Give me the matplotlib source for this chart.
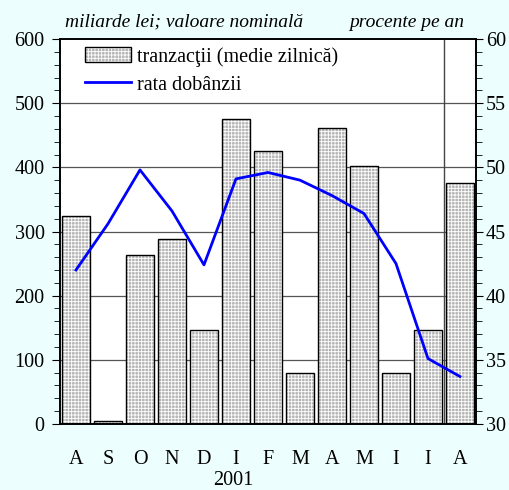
import matplotlib
matplotlib.use("Agg")
import matplotlib.pyplot as plt
from matplotlib.patches import Patch
from matplotlib.lines import Line2D
import numpy as np

# Daten
luni = ["A", "S", "O", "N", "D", "I", "F", "M", "A", "M", "I", "I", "A"]
tranzactii = [324, 5, 263, 288, 146, 475, 425, 79, 461, 402, 79, 146, 375]
rata = [42.0, 45.6, 49.8, 46.6, 42.4, 49.1, 49.6, 49.0, 47.8, 46.4, 42.5, 35.1, 33.7]

plt.rcParams["font.family"] = ["Liberation Serif", "DejaVu Serif"]
plt.rcParams["hatch.linewidth"] = 0.6

fig = plt.figure(figsize=(5.1, 4.9), dpi=100, facecolor="#ecfefd")
ax = fig.add_axes([0.1176, 0.1347, 0.8157, 0.7857])
ax.set_facecolor("white")

x = np.arange(len(luni))
grau = "#b4b4b4"

# Gitterlinien hinter den Balken
for v in range(100, 600, 100):
    ax.axhline(v, color="#555555", lw=0.9, zorder=0)

# Balken: gepunktete Füllung + schwarzer Rand
ax.bar(x, tranzactii, width=0.9, color=grau, edgecolor="white",
       hatch="+++++", lw=0, zorder=2)
ax.bar(x, tranzactii, width=0.9, fill=False, edgecolor="black", lw=1.0, zorder=3)
# Trennlinie vor dem letzten Monat
ax.axvline(11.5, color="#444444", lw=1.0, zorder=4)

ax.set_xlim(-0.5, 12.5)
ax.set_ylim(0, 600)
ax.set_yticks(range(0, 601, 100))
ax.set_yticks(range(0, 601, 20), minor=True)
ax.set_xticks(x)
ax.set_xticklabels(luni, fontsize=14.5)
ax.tick_params(axis="x", length=0, pad=19)
ax.tick_params(axis="y", which="major", length=6, labelsize=14.5, pad=5)
ax.tick_params(axis="y", which="minor", length=4)

ax2 = ax.twinx()
ax2.plot(x, rata, color="#0000ff", lw=2, zorder=5)
ax2.set_ylim(30, 60)
ax2.set_yticks(range(30, 61, 5))
ax2.set_yticks(range(30, 61, 1), minor=True)
ax2.tick_params(axis="y", which="major", length=5, labelsize=14.5, pad=2)
ax2.tick_params(axis="y", which="minor", length=4)

for a in (ax, ax2):
    for s in a.spines.values():
        s.set_linewidth(1.2)

# Legende: Balkensymbol = schraffierte Fläche + schwarzer Rand übereinander
balken_h = (Patch(facecolor=grau, edgecolor="white", hatch="+++++", lw=0),
            Patch(fill=False, edgecolor="black", lw=1.0))
linie_h = Line2D([0], [0], color="#0000ff", lw=2)
leg = ax2.legend([balken_h, linie_h], ["tranzacţii (medie zilnică)", "rata dobânzii"],
                 loc="upper left", bbox_to_anchor=(0.055, 0.985), frameon=True,
                 fontsize=14.5, handlelength=2.3, handleheight=0.8,
                 handletextpad=0.3, borderaxespad=0, borderpad=0.1,
                 labelspacing=0.42)
leg.get_frame().set_facecolor("white")
leg.get_frame().set_edgecolor("white")
leg.get_frame().set_alpha(1)

fig.text(0.36, 0.955, "miliarde lei; valoare nominală", style="italic",
         fontsize=14, ha="center", va="center")
fig.text(0.797, 0.955, "procente pe an", style="italic",
         fontsize=14, ha="center", va="center")
fig.text(0.457, 0.02, "2001", fontsize=14.5, ha="center", va="center")

fig.savefig("out.png", dpi=100, facecolor=fig.get_facecolor())
